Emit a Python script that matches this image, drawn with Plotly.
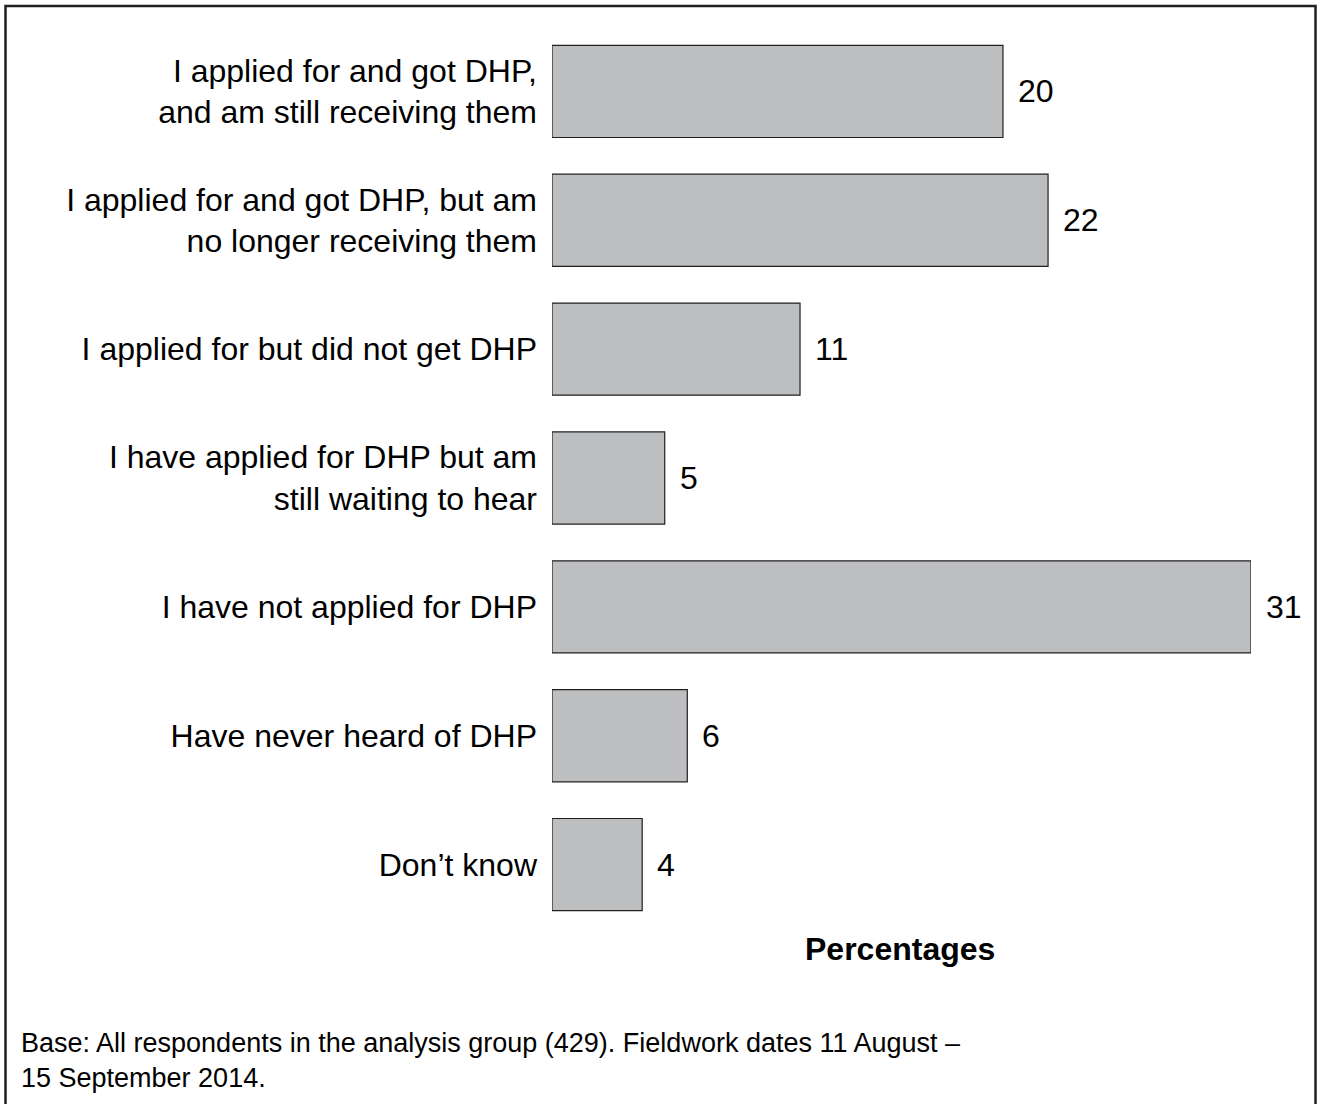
import plotly.graph_objects as go

categories = [
    "I applied for and got DHP,<br>and am still receiving them",
    "I applied for and got DHP, but am<br>no longer receiving them",
    "I applied for but did not get DHP",
    "I have applied for DHP but am<br>still waiting to hear",
    "I have not applied for DHP",
    "Have never heard of DHP",
    "Don\u2019t know",
]
values = [20, 22, 11, 5, 31, 6, 4]
value_labels = [str(v) for v in values]

W, H = 1321, 1104
L, R, T, B = 552, 70, 26.5, 174.5
PW = W - L - R
PH = H - T - B


def px2x(px):
    return (px - L) / PW


def px2y(py):
    return (H - B - py) / PH


FONT = "Liberation Sans, Arial, Helvetica, sans-serif"

fig = go.Figure()
fig.add_trace(go.Bar(
    x=values,
    y=categories,
    orientation="h",
    marker=dict(color="#bcbec0", line=dict(color="#231f20", width=1.2)),
    width=0.715,
    hoverinfo="skip",
))

for c, v, t in zip(categories, values, value_labels):
    fig.add_annotation(x=v, y=c, xref="x", yref="y", text=t, showarrow=False,
                       xanchor="left", yanchor="middle", xshift=13,
                       font=dict(size=32, color="#000000", family=FONT))

fig.add_annotation(x=px2x(900), y=px2y(950), xref="paper", yref="paper",
                   text="<b>Percentages</b>", showarrow=False,
                   xanchor="center", yanchor="middle",
                   font=dict(size=32, color="#000000", family=FONT))

fig.add_annotation(x=px2x(19), y=px2y(1061), xref="paper", yref="paper",
                   text="Base: All respondents in the analysis group (429). Fieldwork dates 11 August \u2013<br>15 September 2014.",
                   showarrow=False, xanchor="left", yanchor="middle", align="left",
                   font=dict(size=27, color="#000000", family=FONT))

fig.add_shape(type="rect", xref="paper", yref="paper",
              x0=px2x(5.5), x1=px2x(1315.5), y0=px2y(1115), y1=px2y(5.5),
              line=dict(color="#231f20", width=2.5), fillcolor="rgba(0,0,0,0)")

fig.update_layout(
    width=W, height=H,
    margin=dict(l=L, r=R, t=T, b=B, pad=0),
    paper_bgcolor="white", plot_bgcolor="white",
    showlegend=False,
    font=dict(family=FONT, size=32, color="#000000"),
    xaxis=dict(range=[0, 31], visible=False, showgrid=False, zeroline=False),
    yaxis=dict(type="category", categoryorder="array", categoryarray=categories,
               range=[6.5, -0.5], showgrid=False, zeroline=False, showline=False,
               ticks="", ticklabelstandoff=14,
               tickfont=dict(size=32, color="#000000", family=FONT)),
)

fig.write_html("out.html", config={"displayModeBar": False},
               post_script="document.body.style.margin='0';document.body.style.overflow='hidden';")
